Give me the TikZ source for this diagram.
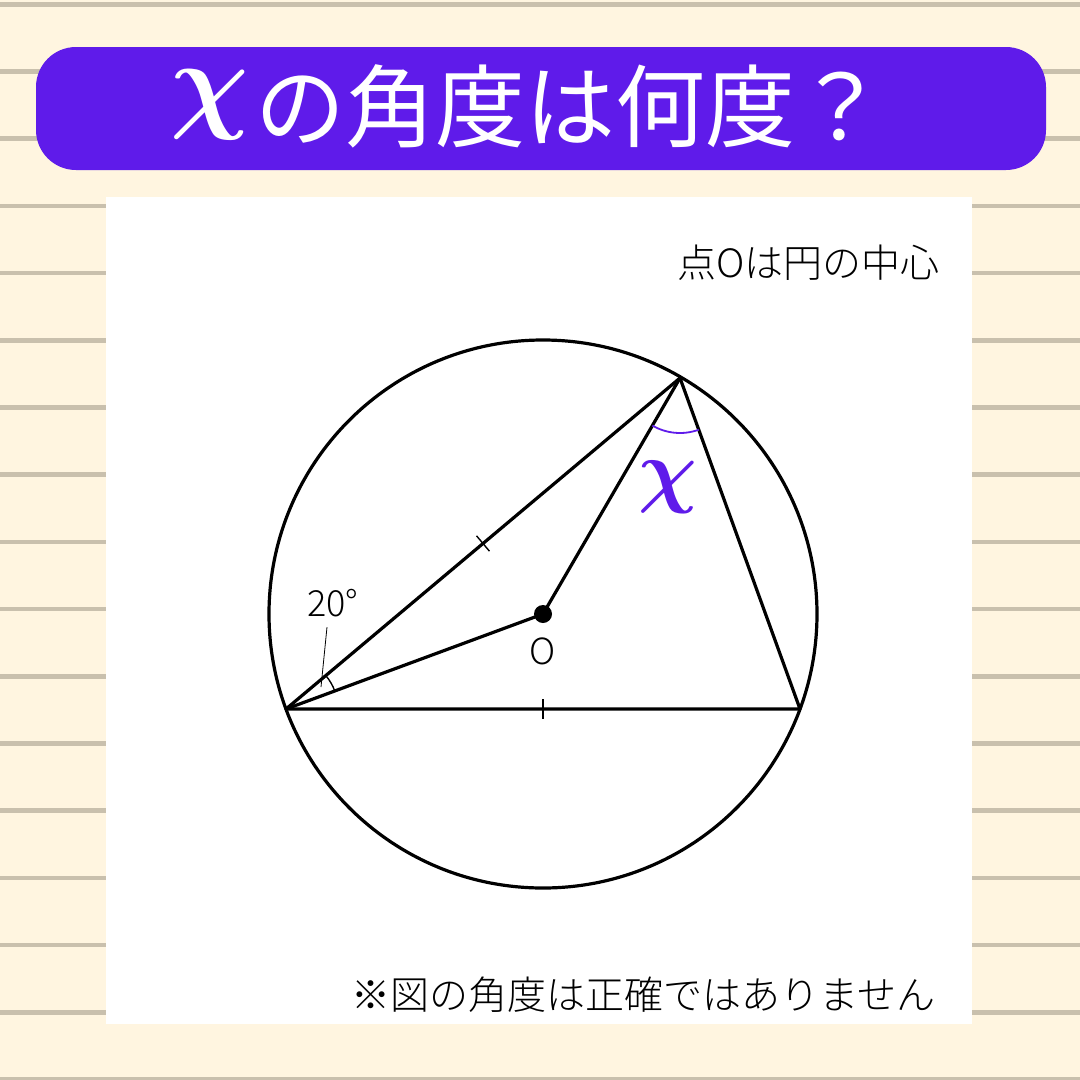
\documentclass[tikz,border=0pt]{standalone}
\usepackage{graphicx}
\usepackage{amsmath}
\usepackage{fontspec}
\newfontfamily\jp{Noto Sans CJK JP Light}
\newfontfamily\jpr{Noto Sans CJK JP}
\usetikzlibrary{angles,calc}
\definecolor{bgcream}{HTML}{FFF5E0}
\definecolor{ruleline}{HTML}{C9C0AD}
\definecolor{vio}{HTML}{5F1BEA}
\tikzset{
  fig/.style={line width=3.2pt, black},
  tickmark/.style={line width=1.4pt, black},
  note/.style={font=\jp\fontsize{39}{44}\selectfont, inner sep=0pt},
}
\begin{document}
\begin{tikzpicture}[x=1pt,y=-1pt]
\useasboundingbox (0,0) rectangle (1080,1080);
\fill[bgcream] (0,0) rectangle (1080,1080);
\foreach \i in {0,...,16} {
  \fill[ruleline] (0,{2+67.2*\i}) rectangle (1080,{6.5+67.2*\i});
}
% title banner
\fill[vio, rounded corners=40pt] (36,47) rectangle (1046,170);
\node[text=white, inner sep=0pt] (title) at (528,106)
  {\jpr\fontsize{90}{100}\selectfont\raisebox{0.24em}{\scalebox{4.4}{$\boldsymbol{\chi}$}}\kern0.08em の角度は何度？};
% white panel
\fill[white] (106,197) rectangle (972,1024);
\node[note, anchor=east] (n1) at (940,263) {点Oは円の中心};
\node[note, anchor=east] (n2) at (936,995) {※図の角度は正確ではありません};
% geometry
\coordinate (O) at (543,614);
\coordinate (A) at (286,709);
\coordinate (B) at (800,709);
\coordinate (C) at (680,378);
\draw[fig] (O) circle[radius=274pt];
\draw[fig, line join=round] (A) -- (C) -- (B) -- cycle;
\draw[fig] (A) -- (O) -- (C);
\fill (O) circle[radius=9pt];
\node[font=\jp\fontsize{36}{40}\selectfont, inner sep=0pt] (olabel) at (543,651) {O};
% tick marks
\coordinate (mAC) at ($(A)!0.5!(C)$);
\draw[tickmark] ($(mAC)!10pt!90:(C)$) -- ($(mAC)!10pt!-90:(C)$);
\coordinate (mAB) at ($(A)!0.5!(B)$);
\draw[tickmark] ($(mAB)!10pt!90:(B)$) -- ($(mAB)!10pt!-90:(B)$);
% angle marks
\pic[draw, line width=1.4pt, angle radius=52pt] {angle=O--A--C};
\pic[draw=vio, line width=1.8pt, angle radius=55pt] {angle=O--C--B};
\node[font=\jp\fontsize{36}{40}\selectfont, inner sep=0pt] (twenty) at (333,603) {20°};
\coordinate (lead) at (321,687);
\draw[line width=0.8pt] (twenty.south) ++(-6pt,-10pt) -- (lead);
\node[text=vio, inner sep=0pt] (xlabel) at (668,487) {\scalebox{8.2}{$\boldsymbol{\chi}$}};
\end{tikzpicture}
\end{document}
